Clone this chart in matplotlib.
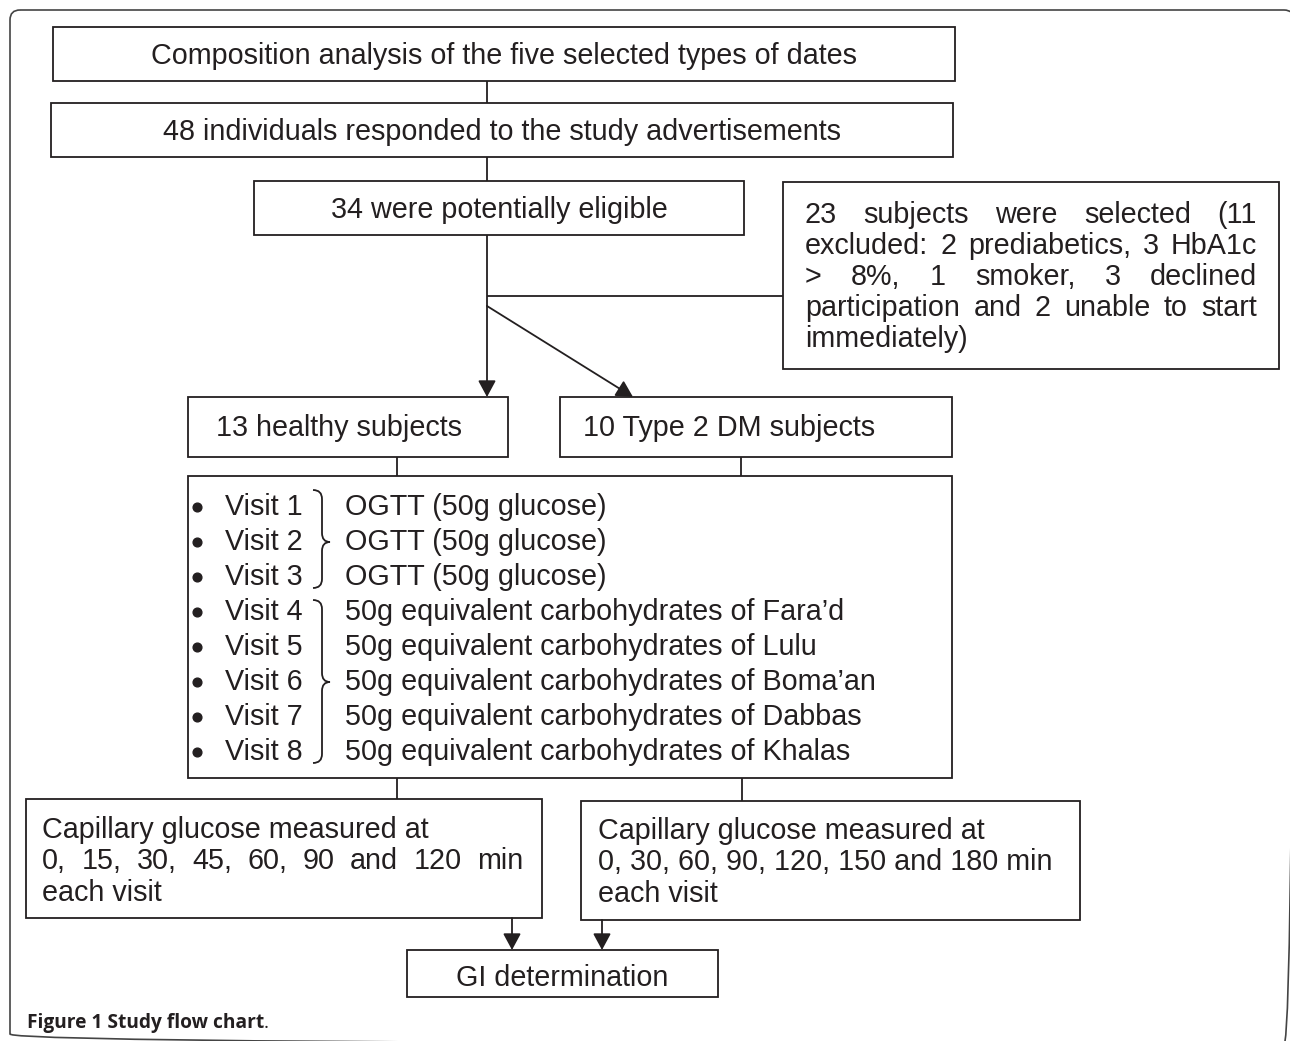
import matplotlib
matplotlib.use('Agg')
import matplotlib.pyplot as plt
from matplotlib.patches import Rectangle, FancyBboxPatch, FancyArrowPatch, PathPatch, ArrowStyle
from matplotlib.path import Path

# ---------------- content ----------------
top_text = "Composition analysis of the five selected types of dates"
respond_text = "48 individuals responded to the study advertisements"
eligible_text = "34 were potentially eligible"
selected_lines = ["23 subjects were selected (11",
                  "excluded: 2 prediabetics, 3 HbA1c",
                  "> 8%, 1 smoker, 3 declined",
                  "participation and 2 unable to start",
                  "immediately)"]
group_labels = ["13 healthy subjects", "10 Type 2 DM subjects"]
visit_numbers = [1, 2, 3, 4, 5, 6, 7, 8]
date_types = ["Fara\u2019d", "Lulu", "Boma\u2019an", "Dabbas", "Khalas"]
visit_tests = ["OGTT (50g glucose)"] * 3 + \
              ["50g equivalent carbohydrates of " + d for d in date_types]
healthy_times = [0, 15, 30, 45, 60, 90, 120]
dm_times = [0, 30, 60, 90, 120, 150, 180]
gi_text = "GI determination"
caption_bold = "Figure 1 Study flow chart"
caption_end = "."

# ---------------- styling ----------------
FONT = ["Liberation Sans", "DejaVu Sans"]
FS = 20.7
TXT = "#231f20"
LN = "#231f20"
LW = 1.3

fig = plt.figure(figsize=(12.9, 10.41), dpi=100)
ax = fig.add_axes([0, 0, 1, 1])
ax.set_xlim(0, 1290)
ax.set_ylim(1041, 0)
ax.axis('off')


def box(x0, y0, x1, y1):
    ax.add_patch(Rectangle((x0, y0), x1 - x0, y1 - y0, fill=False,
                           ec=LN, lw=LW, joinstyle='miter'))


def line(xs, ys):
    ax.plot(xs, ys, color=LN, lw=LW, solid_capstyle='butt')


def arrow(p0, p1):
    st = ArrowStyle('-|>', head_length=0.5, head_width=0.27)
    ax.add_patch(FancyArrowPatch(p0, p1, arrowstyle=st, mutation_scale=20,
                                 shrinkA=0, shrinkB=0, color=LN, lw=LW))


def txt(x, y, s, ha='left', **kw):
    return ax.text(x, y, s, ha=ha, va='baseline', fontsize=FS,
                   family=FONT, color=TXT, **kw)


renderer = fig.canvas.get_renderer()


def justified(s, x0, x1, yb):
    words = s.split()
    ts = [txt(0, yb, w) for w in words]
    widths = [t.get_window_extent(renderer).width for t in ts]
    gap = (x1 - x0 - sum(widths)) / max(len(words) - 1, 1)
    x = x0
    for t, w in zip(ts, widths):
        t.set_x(x)
        x += w + gap


def brace(x0, xv, xt, y0, ym, y1, r=9):
    verts = [(x0, y0), (xv, y0), (xv, y0 + r),
             (xv, ym - r),
             (xv, ym), (xt, ym),
             (xv, ym), (xv, ym + r),
             (xv, y1 - r),
             (xv, y1), (x0, y1)]
    codes = [Path.MOVETO, Path.CURVE3, Path.CURVE3,
             Path.LINETO,
             Path.CURVE3, Path.CURVE3,
             Path.CURVE3, Path.CURVE3,
             Path.LINETO,
             Path.CURVE3, Path.CURVE3]
    ax.add_patch(PathPatch(Path(verts, codes), fill=False, ec=LN, lw=1.3))


# outer rounded frame (right and bottom edges fall just past the image border)
ax.add_patch(FancyBboxPatch((10, 10), 1284, 1034,
                            boxstyle="round,pad=0,rounding_size=10",
                            fill=False, ec="#444444", lw=1.2))

# box 1
box(53, 27, 955, 81)
txt(504, 64, top_text, ha='center')
line([487, 487], [81, 103])
# box 2
box(51, 103, 953, 157)
txt(502, 140, respond_text, ha='center')
line([487, 487], [157, 181])
# box 3
box(254, 181, 744, 235)
txt(499, 218, eligible_text, ha='center')

# exclusion box
box(783, 182, 1279, 369)
for i, s in enumerate(selected_lines):
    yb = 223 + 31 * i
    if i < len(selected_lines) - 1:
        justified(s, 805, 1257, yb)
    else:
        txt(805, yb, s)

# branching
line([487, 487], [235, 306])
line([487, 783], [296, 296])
arrow((487, 306), (487, 397))
arrow((487, 306), (633, 397))

# group boxes
box(188, 397, 508, 457)
txt(216, 436, group_labels[0])
box(560, 397, 952, 457)
txt(583, 436, group_labels[1])
line([397, 397], [457, 476])
line([741, 741], [457, 476])

# visits box
box(188, 476, 952, 778)
for i, (n, t) in enumerate(zip(visit_numbers, visit_tests)):
    yb = 515 + 35 * i
    ax.plot([197], [yb - 8], 'o', ms=6.3, color=TXT)
    txt(225, yb, f"Visit {n}")
    txt(345, yb, t)
brace(313, 322, 330, 490, 542, 588)
brace(313, 322, 330, 600, 682, 763)

line([397, 397], [778, 799])
line([742, 742], [778, 801])

# capillary boxes
box(26, 799, 542, 918)
txt(42, 838, "Capillary glucose measured at")
h = [f"{v}," for v in healthy_times[:-2]] + [str(healthy_times[-2]), "and",
                                             str(healthy_times[-1]), "min"]
justified(" ".join(h), 42, 523, 869)
txt(42, 901, "each visit")

box(581, 801, 1080, 920)
txt(598, 839, "Capillary glucose measured at")
d = ", ".join(str(v) for v in dm_times[:-1]) + f" and {dm_times[-1]} min"
txt(598, 870, d)
txt(598, 902, "each visit")

arrow((512, 918), (512, 950))
arrow((602, 920), (602, 950))

# GI box
box(407, 950, 718, 997)
txt(562, 986, gi_text, ha='center')

# caption
CFS = 13.8
cap = ax.text(27, 1028, caption_bold, ha='left', va='baseline', fontsize=CFS,
              family=["Open Sans", "DejaVu Sans"], weight='bold', color="#231f20")
w = cap.get_window_extent(renderer).width
ax.text(27 + w - 1, 1028, caption_end, ha='left', va='baseline', fontsize=CFS,
        family=["Open Sans", "DejaVu Sans"], color="#231f20")

fig.savefig("out.png", dpi=100)
